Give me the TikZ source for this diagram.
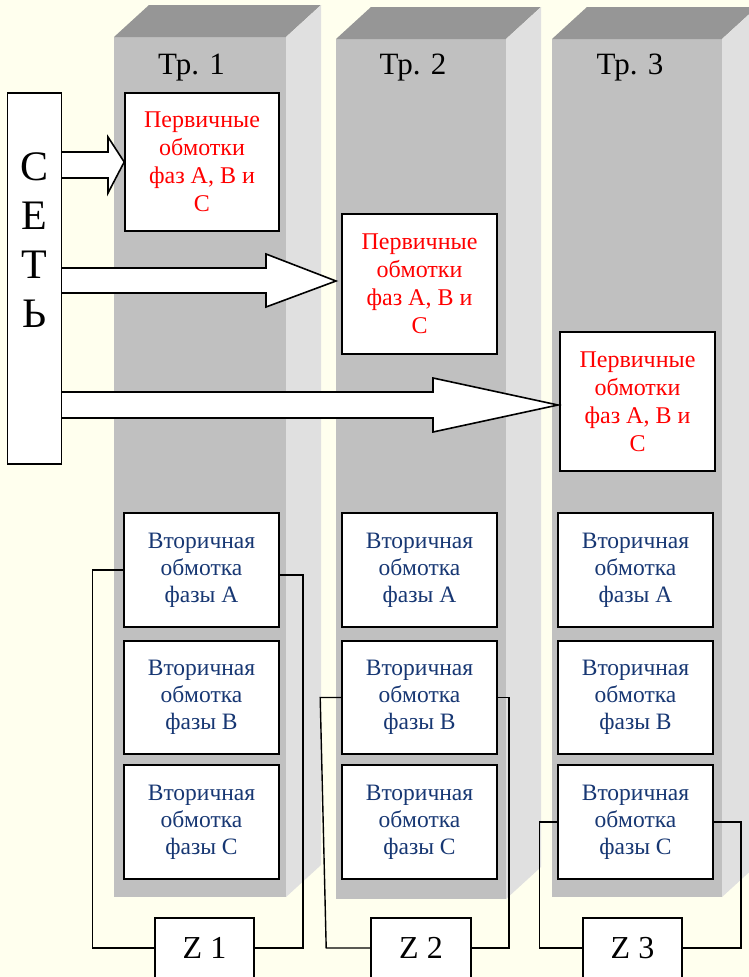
\documentclass[tikz,border=0pt]{standalone}
\usepackage{fontspec}
\setmainfont{Liberation Serif}
\definecolor{bg}{RGB}{255,255,238}
\definecolor{topf}{RGB}{150,150,150}
\definecolor{frontf}{RGB}{192,192,192}
\definecolor{sidef}{RGB}{224,224,224}
\definecolor{navy}{RGB}{23,55,115}
\begin{document}
\begin{tikzpicture}[x=1pt,y=-1pt,
  box/.style={draw, line width=1.6pt, fill=white, inner sep=0pt, align=center},
  prim/.style={box, text=red, font=\fontsize{24}{28}\selectfont, minimum width=155pt, minimum height=139pt},
  sec/.style={box, text=navy, font=\fontsize{23.5}{27}\selectfont, minimum width=155pt, minimum height=114pt},
  zbox/.style={box, font=\fontsize{32}{36}\selectfont, minimum width=99pt, minimum height=60pt},
  title/.style={font=\fontsize{31}{36}\selectfont, inner sep=0pt},
  wire/.style={line width=1.4pt, line join=miter},
  blockarrow/.style={draw, fill=white, line width=1.6pt, line join=miter}]
\useasboundingbox (0,0) rectangle (749,977);
\clip (0,0) rectangle (749,977);
\fill[bg] (0,0) rectangle (749,977);
% transformer columns
\foreach \l/\r/\t/\b in {114/286/37/897, 336/506/39/899, 552/722/39/897}{
  \fill[frontf] (\l,\t) rectangle (\r,\b);
  \fill[topf] (\l,\t) -- (\r,\t) -- (\r+35,\t-32) -- (\l+35,\t-32) -- cycle;
  \fill[sidef] (\r,\t) -- (\r+35,\t-32) -- (\r+35,\b-32) -- (\r,\b) -- cycle;
}
\node[title] (t1) at (191.5,68) {Тр. 1};
\node[title] (t2) at (413,68) {Тр. 2};
\node[title] (t3) at (630,68) {Тр. 3};
% primary windings
\node[prim, minimum width=154pt, minimum height=138pt] (p1) at (202,162) {Первичные\\обмотки\\фаз А, В и\\С};
\node[prim, minimum height=140pt] (p2) at (419.5,284) {Первичные\\обмотки\\фаз А, В и\\С};
\node[prim] (p3) at (637.5,401.5) {Первичные\\обмотки\\фаз А, В и\\С};
% arrows from the network
\draw[blockarrow] (62,152) -- (108,152) -- (108,137) -- (p1.west) -- (108,193) -- (108,178) -- (62,178);
\draw[blockarrow] (62,268) -- (266,268) -- (266,254) -- (336,281) -- (266,307) -- (266,293) -- (62,293);
\draw[blockarrow] (62,392) -- (433,392) -- (433,378) -- (558,405) -- (433,432) -- (433,418) -- (62,418);
% network
\node[box, minimum width=54pt, minimum height=371pt] (set) at (34.5,278.5) {};
\node[font=\fontsize{42}{49}\selectfont, align=center, inner sep=0pt] (settext) at (34.5,240.5) {С\\Е\\Т\\Ь};
% secondary windings
\node[sec] (sA1) at (201.5,570) {Вторичная\\обмотка\\фазы А};
\node[sec, minimum height=113pt] (sB1) at (201.5,697.5) {Вторичная\\обмотка\\фазы В};
\node[sec] (sC1) at (201.5,822) {Вторичная\\обмотка\\фазы С};
\node[sec] (sA2) at (419.5,570) {Вторичная\\обмотка\\фазы А};
\node[sec, minimum height=113pt] (sB2) at (419.5,697.5) {Вторичная\\обмотка\\фазы В};
\node[sec] (sC2) at (419.5,822) {Вторичная\\обмотка\\фазы С};
\node[sec] (sA3) at (635.5,570) {Вторичная\\обмотка\\фазы А};
\node[sec, minimum height=113pt] (sB3) at (635.5,697.5) {Вторичная\\обмотка\\фазы В};
\node[sec] (sC3) at (635.5,822) {Вторичная\\обмотка\\фазы С};
% loads
\node[zbox] (z1) at (204.5,948) {Z 1};
\node[zbox, minimum width=100pt] (z2) at (421,948) {Z 2};
\node[zbox] (z3) at (632.5,948) {Z 3};
% wiring
\draw[wire] (sA1.west) -- ++(-31,0) -- ++(0,378) -- (z1.west);
\draw[wire] ([yshift=-5pt]sA1.east) -- ++(23,0) -- ++(0,373) -- (z1.east);
\draw[wire] (sB2.west) -- ++(-21,0) -- ++(6,250.5) -- (z2.west);
\draw[wire] (sB2.east) -- ++(11,0) -- ++(0,250.5) -- (z2.east);
\draw[wire] (sC3.west) -- ++(-18,0) -- ++(0,126) -- (z3.west);
\draw[wire] (sC3.east) -- ++(27,0) -- ++(0,126) -- (z3.east);
\end{tikzpicture}
\end{document}
